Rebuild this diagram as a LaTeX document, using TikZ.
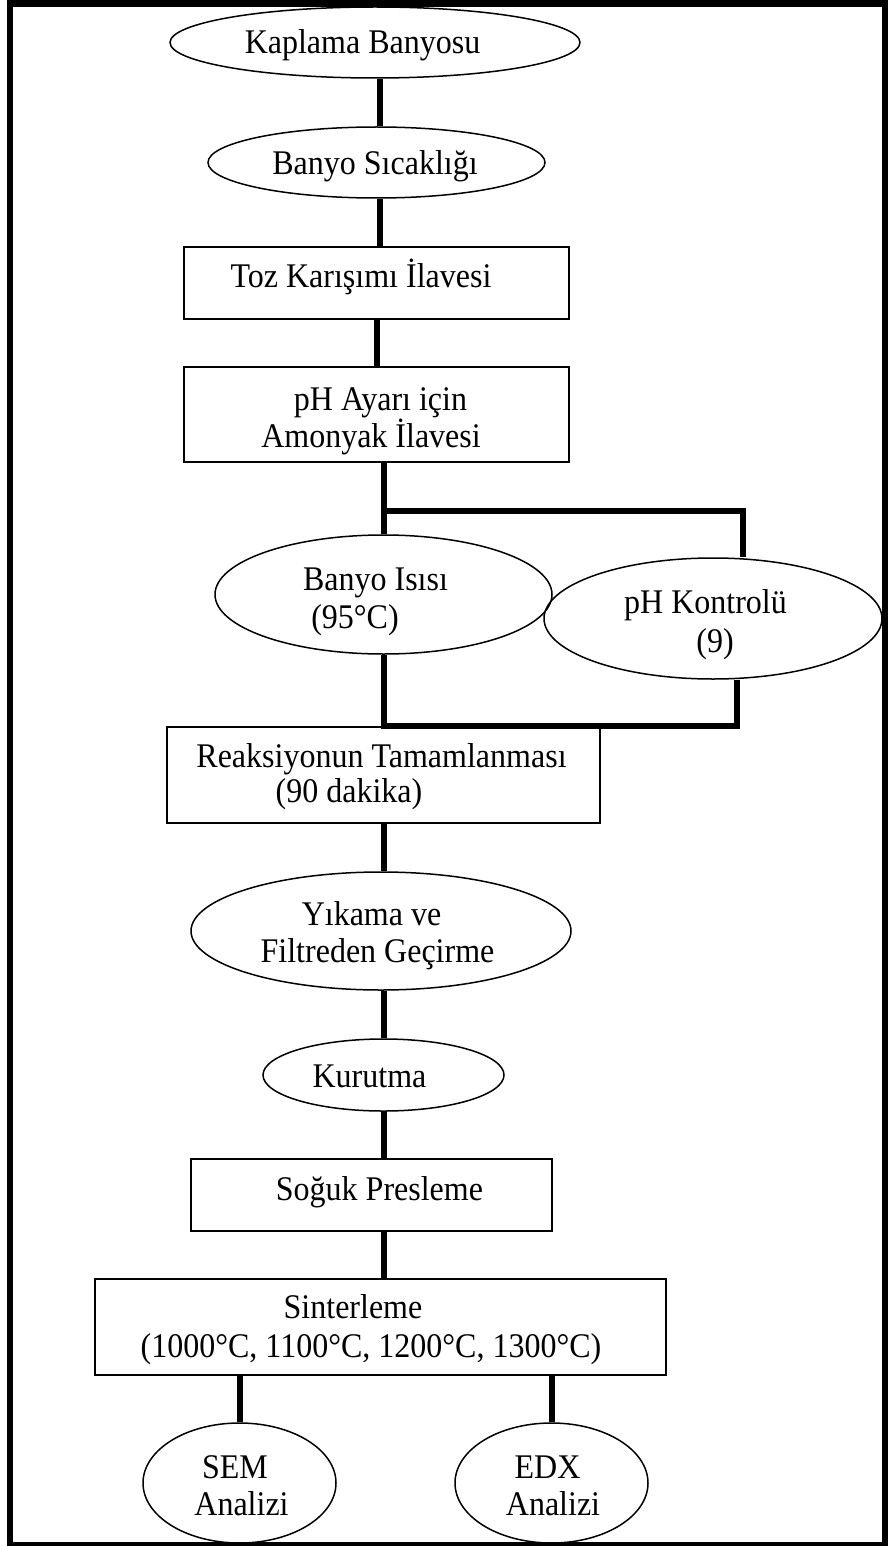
\documentclass[tikz,border=0pt]{standalone}
\usepackage{fontspec}
\setmainfont{Liberation Serif}
\usetikzlibrary{shapes.geometric}
\newcommand{\tx}[1]{\scalebox{1}[1.08]{#1}}
\begin{document}
\begin{tikzpicture}[x=1pt,y=-1pt,
  outl/.style={draw,line width=1.5pt,inner sep=0pt},
  ell/.style={outl,ellipse},
  box/.style={outl,rectangle},
  txt/.style={inner sep=0pt,anchor=base,font=\fontsize{32}{36}\selectfont},
  conn/.style={line width=6pt,line join=miter}]
\useasboundingbox (0,0) rectangle (888,1546);
\draw[line width=6.5pt] (10,3.5) rectangle (885.5,1545.5);

% shapes
\node[ell,minimum width=410pt,minimum height=71pt] (kap) at (375,42.5) {};
\node[ell,minimum width=337pt,minimum height=71pt] (sic) at (376.5,162.5) {};
\node[box,minimum width=385pt,minimum height=72pt] (toz) at (376.5,283) {};
\node[box,minimum width=385pt,minimum height=95pt] (phb) at (376.5,414.5) {};
\node[ell,minimum width=337pt,minimum height=119pt] (isi) at (383.5,594.5) {};
\node[ell,minimum width=338pt,minimum height=121pt] (pk) at (713,618.5) {};
\node[box,minimum width=433pt,minimum height=96pt] (rea) at (383.5,775) {};
\node[ell,minimum width=380pt,minimum height=118pt] (yik) at (381,931) {};
\node[ell,minimum width=241pt,minimum height=72pt] (kur) at (383.5,1075) {};
\node[box,minimum width=361pt,minimum height=72pt] (sog) at (371.5,1195) {};
\node[box,minimum width=571pt,minimum height=96pt] (sin) at (380.5,1327) {};
\node[ell,minimum width=193pt,minimum height=120pt] (sem) at (239.5,1483) {};
\node[ell,minimum width=193pt,minimum height=120pt] (edx) at (551.5,1483) {};

% texts
\node[txt] (t1) at (362.5,54) {\tx{Kaplama Banyosu}};
\node[txt] (t2) at (375,175) {\tx{Banyo Sıcaklığı}};
\node[txt] (t3) at (361,287) {\tx{Toz Karışımı İlavesi}};
\node[txt] (t4a) at (380.5,410) {\tx{pH Ayarı için}};
\node[txt] (t4b) at (371,447) {\tx{Amonyak İlavesi}};
\node[txt] (t5a) at (375.5,590) {\tx{Banyo Isısı}};
\node[txt] (t5b) at (355,628) {\tx{(95°C)}};
\node[txt] (t6a) at (705.5,613) {\tx{pH Kontrolü}};
\node[txt] (t6b) at (715,652) {\tx{(9)}};
\node[txt] (t7a) at (381.5,767) {\tx{Reaksiyonun Tamamlanması}};
\node[txt] (t7b) at (349,802) {\tx{(90 dakika)}};
\node[txt] (t8a) at (371.5,925) {\tx{Yıkama ve}};
\node[txt] (t8b) at (377.5,962) {\tx{Filtreden Geçirme}};
\node[txt] (t9) at (369.5,1087) {\tx{Kurutma}};
\node[txt] (t10) at (379.5,1200) {\tx{Soğuk Presleme}};
\node[txt] (t11a) at (353,1318) {\tx{Sinterleme}};
\node[txt] (t11b) at (371,1357) {\tx{(1000°C, 1100°C, 1200°C, 1300°C)}};
\node[txt] (t12a) at (235,1478) {\tx{SEM}};
\node[txt] (t12b) at (241.5,1515) {\tx{Analizi}};
\node[txt] (t13a) at (547.5,1478) {\tx{EDX}};
\node[txt] (t13b) at (553,1515) {\tx{Analizi}};

% connector guide coordinates
\coordinate (xa) at (380,0);
\coordinate (xb) at (377,0);
\coordinate (xc) at (384,0);
\coordinate (j1) at (384,511);
\coordinate (j2) at (743,511);
\coordinate (j3) at (381,725.5);
\coordinate (j4) at (737,725.5);
\coordinate (xs) at (239.5,0);
\coordinate (xe) at (552,0);

% connectors
\draw[conn] (kap.south -| xa) -- (sic.north -| xa);
\draw[conn] (sic.south -| xa) -- (toz.north -| xa);
\draw[conn] (toz.south -| xb) -- (phb.north -| xb);
\draw[conn] (phb.south -| xc) -- (isi.north -| xc);
\draw[conn] (j1) -- (j2) -- (pk.north -| j2);
\draw[conn] (isi.south -| xc) -- (xc |- j3);
\draw[conn] (pk.south -| j4) -- (j4) -- (j3);
\draw[conn] (rea.south -| xc) -- (yik.north -| xc);
\draw[conn] (yik.south -| xc) -- (kur.north -| xc);
\draw[conn] (kur.south -| xc) -- (sog.north -| xc);
\draw[conn] (sog.south -| xc) -- (sin.north -| xc);
\draw[conn] (sin.south -| xs) -- (sem.north -| xs);
\draw[conn] (sin.south -| xe) -- (edx.north -| xe);
\end{tikzpicture}
\end{document}
